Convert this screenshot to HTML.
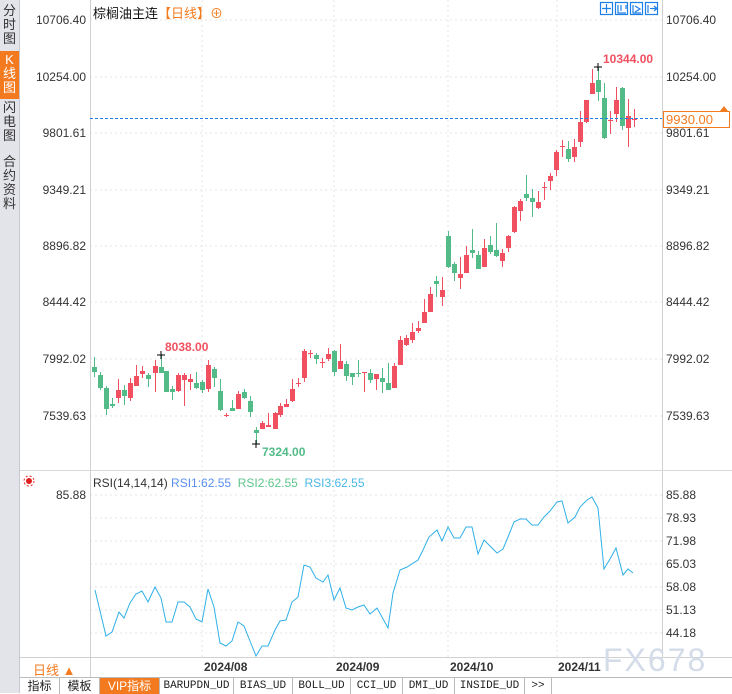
<!DOCTYPE html>
<html><head><meta charset="utf-8"><style>
body{margin:0;width:732px;height:693px;overflow:hidden;background:#fff;font-family:"Liberation Sans","Noto Sans CJK SC",sans-serif;position:relative}
.sb{position:absolute;left:0;top:0;width:19px;height:693px;background:#e3e3ea;border-right:1px solid #c8c8d0}
.sb div{position:absolute;left:0;width:19px;text-align:center;font-size:13px;line-height:14px;color:#333}
.t{position:absolute;font-size:12px;color:#333;white-space:nowrap}
.tabs{position:absolute;left:20px;top:677px;height:16px;width:712px;border-top:1px solid #bbb;background:#fff}
.tab{position:absolute;top:0;height:16px;line-height:16px;font-size:12px;text-align:center;border-right:1px solid #bbb;color:#222}
.m{font-family:"Liberation Mono",monospace;font-size:11px}
</style></head><body>
<div class="sb">
<div style="top:4px">分<br>时<br>图</div>
<div style="top:51px;height:46px;background:#f47a1f;color:#fff;padding-top:2px">K<br>线<br>图</div>
<div style="top:101px">闪<br>电<br>图</div>
<div style="top:155px">合<br>约<br>资<br>料</div>
</div>
<svg width="732" height="693" style="position:absolute;left:0;top:0">
<g stroke="#e4e4e4" stroke-dasharray="2,3">
<line x1="90" x2="662" y1="20" y2="20"/><line x1="90" x2="662" y1="77" y2="77"/><line x1="90" x2="662" y1="133" y2="133"/><line x1="90" x2="662" y1="190" y2="190"/><line x1="90" x2="662" y1="246" y2="246"/><line x1="90" x2="662" y1="302" y2="302"/><line x1="90" x2="662" y1="359" y2="359"/><line x1="90" x2="662" y1="416" y2="416"/>
<line x1="90" x2="662" y1="495" y2="495"/><line x1="90" x2="662" y1="518" y2="518"/><line x1="90" x2="662" y1="541" y2="541"/><line x1="90" x2="662" y1="564" y2="564"/><line x1="90" x2="662" y1="587" y2="587"/><line x1="90" x2="662" y1="610" y2="610"/><line x1="90" x2="662" y1="633" y2="633"/>
<line x1="202" x2="202" y1="0" y2="657"/><line x1="334" x2="334" y1="0" y2="657"/><line x1="448" x2="448" y1="0" y2="657"/><line x1="557" x2="557" y1="0" y2="657"/>
</g>
<line x1="90.5" x2="90.5" y1="0" y2="677" stroke="#d0d0d0"/>
<line x1="662.5" x2="662.5" y1="0" y2="657" stroke="#d0d0d0"/>
<line x1="20" x2="732" y1="470.5" y2="470.5" stroke="#d8d8d8"/>
<line x1="20" x2="732" y1="657.5" y2="657.5" stroke="#d0d0d0"/>
<g id="cd"></g>
<line x1="90" x2="662" y1="118.5" y2="118.5" stroke="#1e7fe6" stroke-dasharray="3,2"/>
<polyline id="rsi" fill="none" stroke="#2fb0e8" stroke-width="1"/>
<g stroke="#000"><line x1="594" x2="602" y1="67" y2="67"/><line x1="598" x2="598" y1="63" y2="71"/>
<line x1="157" x2="165" y1="355" y2="355"/><line x1="161" x2="161" y1="351" y2="359"/>
<line x1="252" x2="260" y1="444" y2="444"/><line x1="256" x2="256" y1="440" y2="448"/></g>
<g fill="none" stroke="#1e7fe6" stroke-width="1.2">
<rect x="600.5" y="2.5" width="12" height="12"/><rect x="615.5" y="2.5" width="12" height="12"/><rect x="630.5" y="2.5" width="12" height="12"/><rect x="645.5" y="2.5" width="12" height="12"/>
<path d="M606.5 4v9M602 8.5h9M618 5v8h8M621 5v6M626 5v4M633 5v8h8M635 6l5 3-5 3M648 5v8M650 8.5h6M654 6l3 2.5-3 2.5"/></g>
<circle cx="29" cy="481" r="3" fill="#e02020"/>
<circle cx="29" cy="481" r="5" fill="none" stroke="#e02020" stroke-dasharray="2,2"/>
<polygon points="720,111 724,106 728,111" fill="#f47a1f"/>
<text x="603" y="671" font-family="Liberation Sans" font-size="32" fill="#d3dce8" letter-spacing="2">FX678</text>
</svg>
<div class="t" style="left:93px;top:3px;font-size:13px;color:#111">棕榈油主连<span style="color:#f47a1f">【日线】⊕</span></div>
<div class="t" style="right:646px;top:13px">10706.40</div>
<div class="t" style="right:646px;top:70px">10254.00</div>
<div class="t" style="right:646px;top:126px">9801.61</div>
<div class="t" style="right:646px;top:183px">9349.21</div>
<div class="t" style="right:646px;top:239px">8896.82</div>
<div class="t" style="right:646px;top:295px">8444.42</div>
<div class="t" style="right:646px;top:352px">7992.02</div>
<div class="t" style="right:646px;top:409px">7539.63</div>
<div class="t" style="left:666px;top:13px">10706.40</div>
<div class="t" style="left:666px;top:70px">10254.00</div>
<div class="t" style="left:666px;top:126px">9801.61</div>
<div class="t" style="left:666px;top:183px">9349.21</div>
<div class="t" style="left:666px;top:239px">8896.82</div>
<div class="t" style="left:666px;top:295px">8444.42</div>
<div class="t" style="left:666px;top:352px">7992.02</div>
<div class="t" style="left:666px;top:409px">7539.63</div>
<div class="t" style="left:663px;top:111px;width:63px;height:15px;border:1px solid #f47a1f;background:#fff;color:#f47a1f;font-size:13px;line-height:15px;padding-left:2px">9930.00</div>
<div class="t" style="left:603px;top:52px;color:#f0505f;font-weight:bold">10344.00</div>
<div class="t" style="left:165px;top:340px;color:#f0505f;font-weight:bold">8038.00</div>
<div class="t" style="left:262px;top:445px;color:#52bb87;font-weight:bold">7324.00</div>
<div class="t" style="left:93px;top:476px">RSI(14,14,14) <span style="color:#5a8ff0">RSI1:62.55</span> &nbsp;<span style="color:#5fc58a">RSI2:62.55</span> &nbsp;<span style="color:#4ab8e8">RSI3:62.55</span></div>
<div class="t" style="right:646px;top:488px">85.88</div>
<div class="t" style="left:666px;top:488px">85.88</div>
<div class="t" style="left:666px;top:511px">78.93</div>
<div class="t" style="left:666px;top:534px">71.98</div>
<div class="t" style="left:666px;top:557px">65.03</div>
<div class="t" style="left:666px;top:580px">58.08</div>
<div class="t" style="left:666px;top:603px">51.13</div>
<div class="t" style="left:666px;top:626px">44.18</div>
<div class="t" style="left:33px;top:660px;color:#f47a1f;font-size:13px">日线 ▲</div>
<div class="t" style="left:204px;top:660px;font-weight:bold">2024/08</div>
<div class="t" style="left:336px;top:660px;font-weight:bold">2024/09</div>
<div class="t" style="left:450px;top:660px;font-weight:bold">2024/10</div>
<div class="t" style="left:558px;top:660px;font-weight:bold">2024/11</div>
<div class="tabs">
<div class="tab" style="left:0;width:39px">指标</div>
<div class="tab" style="left:40px;width:39px">模板</div>
<div class="tab" style="left:80px;width:59px;background:#f47a1f;color:#fff">VIP指标</div>
<div class="tab m" style="left:140px;width:73px">BARUPDN_UD</div>
<div class="tab m" style="left:214px;width:58px">BIAS_UD</div>
<div class="tab m" style="left:273px;width:57px">BOLL_UD</div>
<div class="tab m" style="left:331px;width:51px">CCI_UD</div>
<div class="tab m" style="left:383px;width:51px">DMI_UD</div>
<div class="tab m" style="left:435px;width:69px">INSIDE_UD</div>
<div class="tab m" style="left:505px;width:26px">&gt;&gt;</div>
</div>
<script>
var C=[[94,367,372,357,377,'g'],[100,375,388,372,390,'g'],[106,388,409,386,415,'g'],[112,404,406,398,408,'g'],[118,390,398,379,403,'r'],[124,390,396,385,405,'g'],[130,383,398,378,401,'r'],[136,376,386,365,386,'r'],[142,371,374,366,378,'r'],[148,375,379,373,387,'g'],[155,366,373,360,392,'r'],[161,367,373,355,373,'g'],[166,371,392,371,392,'g'],[172,389,392,386,400,'g'],[178,375,391,373,392,'r'],[184,375,380,373,406,'r'],[190,379,382,374,390,'r'],[196,383,388,372,389,'g'],[202,382,390,380,393,'g'],[208,365,389,360,392,'r'],[214,369,378,367,387,'g'],[220,391,410,379,411,'g'],[226,415,416,413,417,'r'],[232,408,411,400,411,'g'],[238,394,409,391,409,'r'],[244,392,398,389,399,'g'],[250,401,412,396,417,'g'],[256,430,433,427,444,'g'],[262,423,429,421,429,'r'],[268,425,427,413,427,'r'],[275,413,429,412,429,'r'],[280,406,415,403,417,'r'],[286,404,407,399,407,'r'],[292,389,401,379,402,'r'],[298,383,384,378,387,'r'],[304,351,378,349,382,'r'],[310,353,354,350,358,'r'],[316,355,359,353,364,'g'],[322,362,363,358,368,'r'],[328,354,359,348,361,'r'],[334,351,372,350,376,'g'],[340,361,369,344,369,'r'],[346,364,376,361,381,'g'],[352,373,377,373,385,'g'],[358,373,374,360,377,'g'],[364,372,373,372,392,'r'],[370,373,380,369,383,'g'],[376,374,379,374,390,'r'],[382,378,382,368,393,'g'],[388,383,390,363,390,'g'],[394,366,388,363,388,'r'],[400,340,365,336,365,'r'],[406,338,345,335,346,'r'],[412,332,340,323,343,'r'],[418,328,331,321,333,'r'],[424,312,323,299,323,'r'],[430,294,312,287,312,'r'],[436,281,284,276,297,'g'],[442,290,297,277,306,'r'],[448,236,267,231,268,'g'],[454,264,273,262,281,'g'],[460,274,278,257,289,'r'],[466,255,273,246,273,'r'],[472,250,253,229,258,'g'],[478,255,269,251,269,'g'],[484,248,267,239,267,'r'],[490,245,252,236,254,'g'],[496,250,256,223,257,'g'],[502,253,261,249,267,'r'],[508,236,248,235,252,'r'],[514,207,232,206,233,'r'],[520,201,211,199,221,'r'],[526,194,198,175,201,'g'],[532,198,202,189,217,'g'],[538,202,208,191,209,'r'],[544,187,188,182,200,'r'],[550,176,181,173,190,'r'],[556,152,170,150,176,'r'],[562,146,147,140,157,'r'],[568,149,159,141,162,'g'],[574,147,157,139,162,'r'],[580,122,142,111,147,'r'],[586,100,122,100,123,'r'],[592,83,94,69,94,'r'],[598,80,92,67,101,'g'],[604,98,138,83,139,'g'],[610,120,121,111,134,'r'],[616,100,114,87,122,'r'],[622,88,126,87,130,'g'],[628,116,128,99,147,'r'],[634,119,120,109,127,'r']];
var s='';C.forEach(function(c){var col=c[5]=='r'?'#f0505f':'#52bb87';var h=Math.max(1,c[2]-c[1]);
s+='<line x1="'+(c[0]+.5)+'" x2="'+(c[0]+.5)+'" y1="'+c[3]+'" y2="'+c[4]+'" stroke="'+col+'"/>';
s+='<rect x="'+(c[0]-2)+'" y="'+c[1]+'" width="5" height="'+h+'" fill="'+col+'"/>';});
document.getElementById('cd').innerHTML=s;
var R=[95,590,106,636,112,632,119,612,124,618,130,603,136,594,142,591,148,602,155,587,161,598,166,622,172,622,178,602,184,602,190,607,196,619,202,622,208,589,214,607,220,643,226,646,232,641,238,622,244,626,250,641,256,656,262,646,268,646,275,630,280,621,286,620,292,602,298,597,304,565,310,567,316,578,323,582,328,575,334,600,340,588,346,608,352,610,358,607,364,605,370,614,377,608,382,617,388,628,393,593,400,570,407,567,418,560,423,550,429,537,437,530,442,541,448,527,454,538,460,538,466,527,472,527,478,554,484,540,491,547,497,553,503,549,508,537,514,522,520,519,526,519,532,525,538,525,544,517,550,511,557,502,562,501,568,523,575,517,580,507,587,500,592,497,598,508,604,569,610,559,616,548,623,575,628,569,633,573];
var p=[];for(var i=0;i<R.length;i+=2)p.push(R[i]+','+R[i+1]);document.getElementById('rsi').setAttribute('points',p.join(' '));
</script>
</body></html>
